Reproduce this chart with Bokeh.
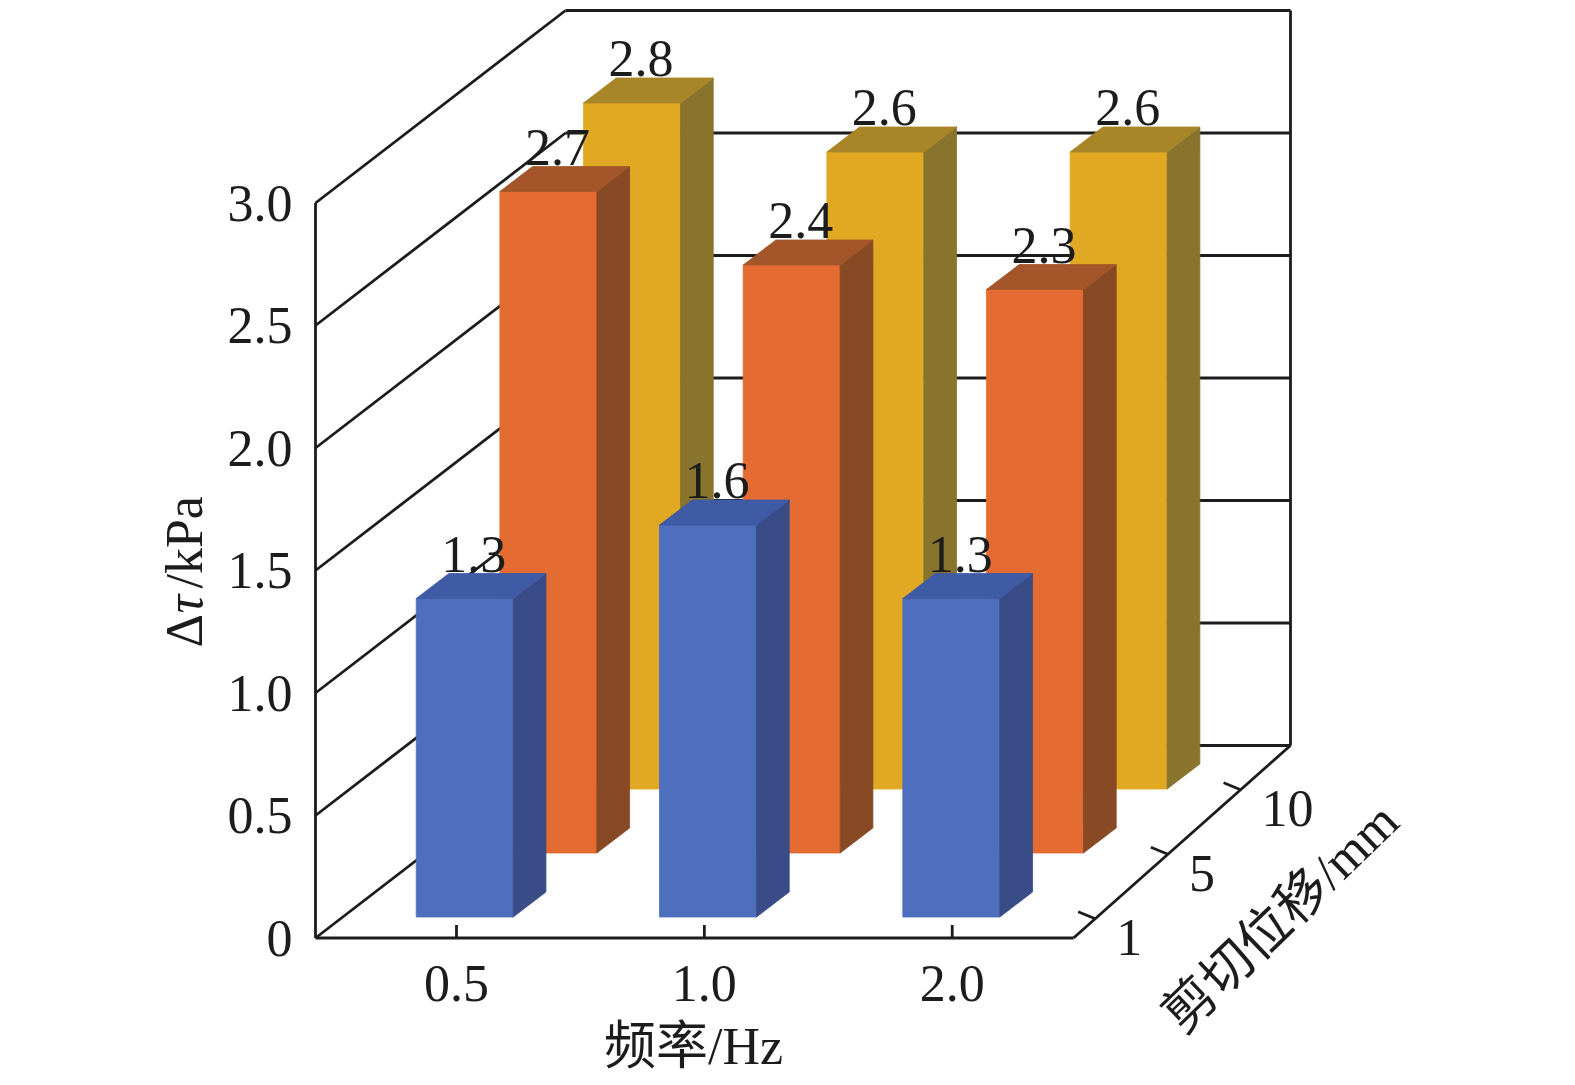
from bokeh.plotting import figure
from bokeh.models import Range1d, ColumnDataSource
from bokeh.core.properties import value
from bokeh.embed import file_html
from bokeh.resources import INLINE

# ---------------- data ----------------
CATS = ["0.5", "1.0", "2.0"]            # 频率/Hz
SERIES = ["1", "5", "10"]               # 剪切位移/mm (front -> back)
VALS_1 = [1.3, 1.6, 1.3]
VALS_5 = [2.7, 2.4, 2.3]
VALS_10 = [2.8, 2.6, 2.6]
Y_TICKS = [0, 0.5, 1.0, 1.5, 2.0, 2.5, 3.0]
Y_TICK_LABELS = ["0", "0.5", "1.0", "1.5", "2.0", "2.5", "3.0"]
Y_MAX = 3.0

FRONT = ["#4E6EBE", "#E46B32", "#E1A823"]
SIDE = ["#3A4C87", "#874A24", "#88742C"]
TOP = ["#3F5BA6", "#A5552A", "#A88628"]

# ---------------- projection (screen geometry) ----------------
Y0, SY, DY = 937.5, 245.0, 192.5
XL, XR, DXL, DXR = 315.0, 1073.0, 250.0, 217.0
BX0, BSTEP, BW, BDX = 388.3, 243.3, 97.0, 251.6
BD0, BDSTEP, BDW = 0.109, 0.3325, 0.13
XT_U0, XT_USTEP = 0.186, 0.327
DT0, DTSTEP = 0.10, 0.335


def wall(u, v, d):
    xl = XL + DXL * d
    xr = XR + DXR * d
    return xl + u * (xr - xl), Y0 - DY * d - SY * v


def bar_pt(i, fx, v, d):
    return BX0 + BSTEP * i + fx * BW + BDX * d, Y0 - DY * d - SY * v


W, H = 1567, 1082
p = figure(width=W, height=H, x_range=Range1d(0, W), y_range=Range1d(H, 0),
           output_backend="svg", toolbar_location=None,
           x_axis_type=None, y_axis_type=None, min_border=0)
p.outline_line_color = None
p.background_fill_color = "white"
p.border_fill_color = "white"

INK = "#1c1c1c"
LW = 2.8

# ---------------- walls and grid ----------------
segs_x0, segs_y0, segs_x1, segs_y1 = [], [], [], []


def seg(a, b):
    segs_x0.append(a[0]); segs_y0.append(a[1]); segs_x1.append(b[0]); segs_y1.append(b[1])


for v in Y_TICKS:
    seg(wall(0, v, 0), wall(0, v, 1))      # left wall grid
    seg(wall(0, v, 1), wall(1, v, 1))      # back wall grid
seg(wall(0, 0, 0), wall(0, Y_MAX, 0))      # front-left edge
seg(wall(1, 0, 1), wall(1, Y_MAX, 1))      # back-right edge
seg(wall(0, 0, 0), wall(1, 0, 0))          # floor front (category axis)
seg(wall(1, 0, 0), wall(1, 0, 1))          # floor right (depth axis)
for i in range(len(CATS)):
    u = XT_U0 + XT_USTEP * i
    a = wall(u, 0, 0)
    seg(a, (a[0], a[1] - 13))
for r in range(len(SERIES)):
    a = wall(1, 0, DT0 + DTSTEP * r)
    seg(a, (a[0] - 17, a[1] - 7))

p.segment(x0=segs_x0, y0=segs_y0, x1=segs_x1, y1=segs_y1, line_color=INK, line_width=LW)

# ---------------- bars (back row first) ----------------
rows = [VALS_1, VALS_5, VALS_10]
for r in reversed(range(len(rows))):
    vals = rows[r]
    d0 = BD0 + BDSTEP * r
    d1 = d0 + BDW
    xs, ys, cols = [], [], []
    for i, v in enumerate(vals):
        faces = [
            ([bar_pt(i, 0, 0, d0), bar_pt(i, 1, 0, d0), bar_pt(i, 1, v, d0), bar_pt(i, 0, v, d0)], FRONT[r]),
            ([bar_pt(i, 1, 0, d0), bar_pt(i, 1, 0, d1), bar_pt(i, 1, v, d1), bar_pt(i, 1, v, d0)], SIDE[r]),
            ([bar_pt(i, 0, v, d0), bar_pt(i, 1, v, d0), bar_pt(i, 1, v, d1), bar_pt(i, 0, v, d1)], TOP[r]),
        ]
        for pts, c in faces:
            xs.append([q[0] for q in pts]); ys.append([q[1] for q in pts]); cols.append(c)
    src = ColumnDataSource(dict(xs=xs, ys=ys, c=cols))
    p.patches("xs", "ys", source=src, fill_color="c", line_color="c", line_width=0.8)

NUMFONT = value("Liberation Serif")
FONT = value("Liberation Serif, Noto Sans CJK SC")
FS = "52px"

# ---------------- value labels ----------------
lx, ly, lt = [], [], []
for r, vals in enumerate(rows):
    d0 = BD0 + BDSTEP * r
    d1 = d0 + BDW
    for i, v in enumerate(vals):
        lx.append(bar_pt(i, 0.5, v, d0)[0] + 9)
        ly.append(bar_pt(i, 0.5, v, d1)[1] - 19)
        lt.append(f"{v:.1f}")
p.text(lx, ly, text=lt, text_font=NUMFONT, text_font_size=FS, text_color=INK,
       text_align="center", text_baseline="middle")

# ---------------- tick labels ----------------
p.text([wall(0, v, 0)[0] - 23 for v in Y_TICKS], [wall(0, v, 0)[1] for v in Y_TICKS],
       text=Y_TICK_LABELS, text_font=NUMFONT, text_font_size=FS, text_color=INK,
       text_align="right", text_baseline="middle")

p.text([wall(XT_U0 + XT_USTEP * i, 0, 0)[0] for i in range(len(CATS))],
       [wall(0, 0, 0)[1] + 45 for _ in CATS],
       text=CATS, text_font=NUMFONT, text_font_size=FS, text_color=INK,
       text_align="center", text_baseline="middle")

p.text([wall(1, 0, DT0 + DTSTEP * r)[0] + 21 for r in range(len(SERIES))],
       [wall(1, 0, DT0 + DTSTEP * r)[1] + 19 for r in range(len(SERIES))],
       text=SERIES, text_font=NUMFONT, text_font_size=FS, text_color=INK,
       text_align="left", text_baseline="middle")

# ---------------- axis titles ----------------
p.text([693], [1046], text=["频率/Hz"], text_font=FONT, text_font_size=FS, text_color=INK,
       text_align="center", text_baseline="middle")

p.text([1280], [917], text=["剪切位移/mm"], text_font=FONT, text_font_size=FS, text_color=INK,
       text_align="center", text_baseline="middle", angle=44, angle_units="deg")

p.text([184], [647], text=["Δ"], text_font=NUMFONT, text_font_size=FS, text_color=INK,
       text_align="left", text_baseline="middle", angle=90, angle_units="deg")
p.text([184], [613], text=["τ"], text_font=NUMFONT, text_font_size=FS, text_color=INK,
       text_font_style="italic", text_align="left", text_baseline="middle", angle=90, angle_units="deg")
p.text([184], [588], text=["/kPa"], text_font=NUMFONT, text_font_size=FS, text_color=INK,
       text_align="left", text_baseline="middle", angle=90, angle_units="deg")

open("out.html", "w").write(file_html(p, INLINE))
